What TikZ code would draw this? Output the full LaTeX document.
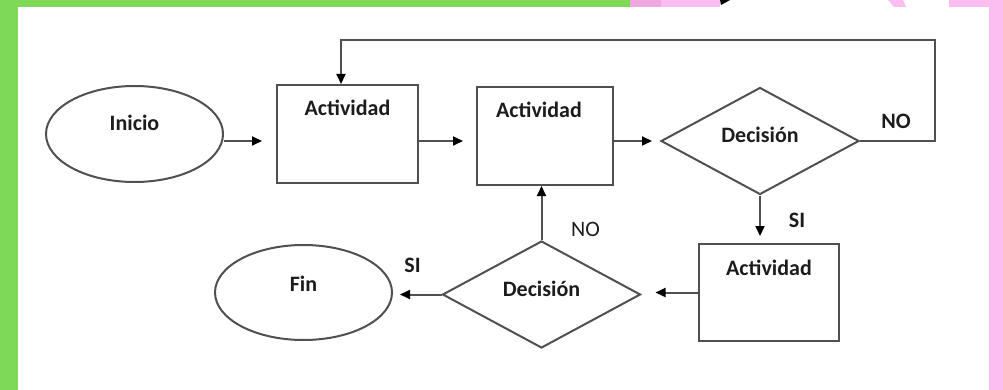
\documentclass[tikz,border=0pt]{standalone}
\usepackage{fontspec}
\setmainfont{Carlito}
\usetikzlibrary{positioning, shapes.geometric, arrows.meta}
\definecolor{framegreen}{RGB}{126,217,87}
\definecolor{framepink}{RGB}{252,189,240}
\definecolor{framepurple}{RGB}{238,168,222}
\definecolor{lineg}{RGB}{80,80,80}
\definecolor{txtg}{RGB}{28,28,28}
\tikzset{dbox/.style={draw=lineg, line width=2pt, inner sep=0pt}}
\tikzset{dact/.style={dbox, rectangle, minimum height=98pt}}
\tikzset{ddec/.style={dbox, diamond, minimum width=198pt, minimum height=107pt}}
\tikzset{dterm/.style={dbox, ellipse, minimum width=177pt, minimum height=96pt}}
\tikzset{lbl/.style={text=txtg, font=\fontsize{22}{26}\selectfont\bfseries, inner sep=0pt}}
\tikzset{arr/.style={draw=lineg, line width=2pt, -{Triangle[length=10pt,width=9pt,color=black]}, shorten >=#1}, arr/.default=0pt}

\begin{document}
\begin{tikzpicture}[x=1pt, y=-1pt]
			\useasboundingbox (0,0) rectangle (1003,390);
			% frame of the slide
			\fill[framegreen] (0,0) rectangle (18,390);
			\fill[framegreen] (0,0) rectangle (630,7);
			\fill[framepurple] (630,0) rectangle (661,7);
			\fill[framepink] (661,0) rectangle (720,7);
			\fill[black] (720,0) -- (730,0) -- (721,5) -- cycle;
			\fill[framepink] (888,0) -- (903,0) -- (906,7) -- (894,7) -- cycle;
			\fill[framepink] (949,0) rectangle (1003,7);
			\fill[framepink] (989,0) rectangle (1003,390);
			% shapes
			\node[dterm] (Inicio) at (134.5,134) {};
			\node[dact, minimum width=141pt] (A1) at (347.5,134) {};
			\node[dact, minimum width=136pt, right=57pt of A1, yshift=-2pt] (A2) {};
			\node[ddec] (D1) at (760,141) {};
			\node[dact, minimum width=140pt, minimum height=97pt] (A3) at (769,292.5) {};
			\node[ddec] (D2) at (541.5,294.5) {};
			\node[dterm, minimum height=95pt] (Fin) at (303.5,292.5) {};
			% texts
			\node[lbl] (IniciLbl) at ([yshift=11pt]Inicio.center) {Inicio};
			\node[lbl] (A1Lbl) at ([yshift=-24pt]A1.north) {Actividad};
			\node[lbl] (A2Lbl) at ([xshift=-6pt, yshift=-24pt]A2.north) {Actividad};
			\node[lbl] (D1Lbl) at ([yshift=6pt]D1.center) {Decisión};
			\node[lbl] (A3Lbl) at ([yshift=-25pt]A3.north) {Actividad};
			\node[lbl] (D2Lbl) at ([yshift=6pt]D2.center) {Decisión};
			\node[lbl] (FinLbl) at ([yshift=9pt]Fin.center) {Fin};
			% connectors
			\coordinate (loopR) at (935,40);
			\draw[arr=14pt] ([yshift=-7pt]Inicio.east) -- ([yshift=-7pt]Inicio.east -| A1.west);
			\draw[arr=13pt] ([yshift=-7pt]A1.east) -- ([yshift=-7pt]A1.east -| A2.west);
			\draw[arr=8pt] (A2.east |- D1.west) -- (D1.west);
			\draw[arr] (D1.east) -| (loopR) -| ([xshift=-6.5pt]A1.north);
			\draw[arr=7pt] (D1.south) -- (D1.south |- A3.north);
			\draw[arr=14pt] (A3.west) -- (A3.west -| D2.east);
			\draw[arr] (D2.north) -- (D2.north |- A2.south);
			\draw[arr=7pt] (D2.west) -- (D2.west -| Fin.east);
			\node[lbl] (NO1) at ([shift={(36,-20)}]D1.east) {NO};
			\node[lbl] (SI1) at ([shift={(37,25)}]D1.south) {SI};
			\node[lbl, font=\fontsize{22}{26}\selectfont] (NO2) at ([shift={(44,-11)}]D2.north) {NO};
			\node[lbl] (SI2) at ([shift={(-29,-29)}]D2.west) {SI};
		\end{tikzpicture}
\end{document}
